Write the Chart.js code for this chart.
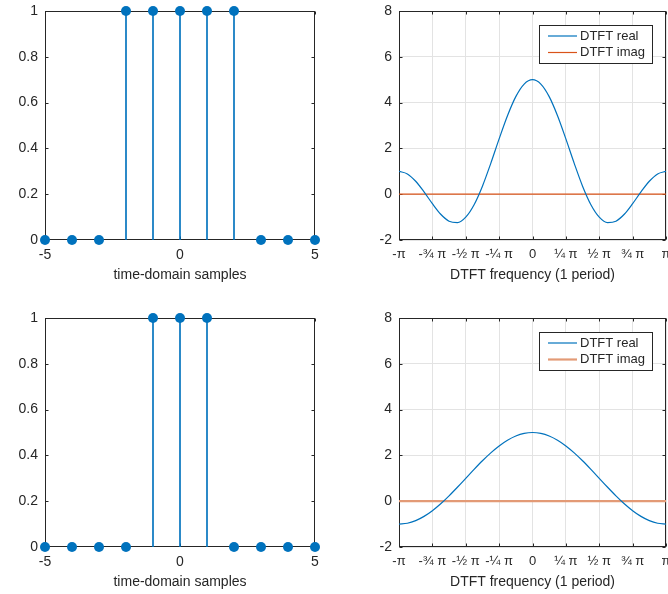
<!DOCTYPE html>
<html>
<head>
<meta charset="utf-8">
<script src="https://cdn.jsdelivr.net/npm/chart.js@4"></script>
<style>
  html, body { margin: 0; padding: 0; background: #fff; overflow: hidden; }
  body { width: 668px; height: 594px; position: relative; }
  canvas { position: absolute; }
</style>
</head>
<body>
<canvas id="stem5" width="340" height="297" style="left:0;top:-5px"></canvas>
<canvas id="dtft5" width="340" height="297" style="left:340px;top:-5px"></canvas>
<canvas id="stem3" width="340" height="297" style="left:0;top:297px"></canvas>
<canvas id="dtft3" width="340" height="297" style="left:340px;top:297px"></canvas>
<script>
// time-domain samples
const samples = [-5, -4, -3, -2, -1, 0, 1, 2, 3, 4, 5];
const pulse5 = [0, 0, 0, 1, 1, 1, 1, 1, 0, 0, 0];
const pulse3 = [0, 0, 0, 0, 1, 1, 1, 0, 0, 0, 0];

// DTFT, frequency in units of pi (one period)
const freqPi = [-1, -0.9375, -0.875, -0.8125, -0.75, -0.6875, -0.625, -0.5625, -0.5,
  -0.4375, -0.375, -0.3125, -0.25, -0.1875, -0.125, -0.0625, 0,
  0.0625, 0.125, 0.1875, 0.25, 0.3125, 0.375, 0.4375, 0.5,
  0.5625, 0.625, 0.6875, 0.75, 0.8125, 0.875, 0.9375, 1];
const real5 = [1, 0.886, 0.566, 0.102, -0.414, -0.877, -1.18, -1.238, -1,
  -0.458, 0.351, 1.346, 2.414, 3.428, 4.262, 4.809, 5,
  4.809, 4.262, 3.428, 2.414, 1.346, 0.351, -0.458, -1,
  -1.238, -1.18, -0.877, -0.414, 0.102, 0.566, 0.886, 1];
const real3 = [-1, -0.962, -0.848, -0.663, -0.414, -0.111, 0.235, 0.61, 1,
  1.39, 1.765, 2.111, 2.414, 2.663, 2.848, 2.962, 3,
  2.962, 2.848, 2.663, 2.414, 2.111, 1.765, 1.39, 1,
  0.61, 0.235, -0.111, -0.414, -0.663, -0.848, -0.962, -1];
const imagZero = [0, 0, 0, 0, 0, 0, 0, 0, 0, 0, 0, 0, 0, 0, 0, 0, 0,
  0, 0, 0, 0, 0, 0, 0, 0, 0, 0, 0, 0, 0, 0, 0, 0];

const piTickLabels = ['-π', '-¾ π', '-½ π', '-¼ π', '0', '¼ π', '½ π', '¾ π', 'π'];
const stemYLabels = ['0', '0.2', '0.4', '0.6', '0.8', '1'];

const blue = '#0072BD';
const ink = '#262626';
const font = { family: '"Liberation Sans", Arial, sans-serif', size: 14 };

Chart.defaults.color = ink;
Chart.defaults.font.family = font.family;

// box around the axes with small inward tick marks
const framePlugin = {
  id: 'frame',
  beforeDatasetsDraw(chart) {
    const { ctx, chartArea: a, scales } = chart;
    ctx.save();
    ctx.strokeStyle = ink;
    ctx.lineWidth = 1;
    const l = Math.round(a.left) + 0.5, r = Math.round(a.right) - 0.5;
    const t = Math.round(a.top) + 0.5, b = Math.round(a.bottom) - 0.5;
    ctx.strokeRect(l, t, r - l, b - t);
    ctx.beginPath();
    scales.x.ticks.forEach(tk => {
      const px = Math.round(scales.x.getPixelForValue(tk.value)) + 0.5;
      ctx.moveTo(px, b); ctx.lineTo(px, b - 3);
      ctx.moveTo(px, t); ctx.lineTo(px, t + 3);
    });
    scales.y.ticks.forEach(tk => {
      const py = Math.round(scales.y.getPixelForValue(tk.value)) + 0.5;
      ctx.moveTo(l, py); ctx.lineTo(l + 3, py);
      ctx.moveTo(r, py); ctx.lineTo(r - 3, py);
    });
    ctx.stroke();
    ctx.restore();
  }
};

// MATLAB-like legend in the upper right of the axes
const boxLegend = {
  id: 'boxLegend',
  afterDraw(chart) {
    const { ctx, chartArea: a } = chart;
    const w = 113, h = 38;
    const x = Math.round(a.right) - 14 - w, y = Math.round(a.top) + 14;
    ctx.save();
    ctx.fillStyle = '#fff';
    ctx.fillRect(x, y, w, h);
    ctx.strokeStyle = ink;
    ctx.lineWidth = 1;
    ctx.strokeRect(x + 0.5, y + 0.5, w, h);
    ctx.font = '13px ' + font.family;
    ctx.textBaseline = 'middle';
    chart.data.datasets.forEach((ds, i) => {
      const cy = y + 11 + i * 16.5;
      ctx.strokeStyle = ds.borderColor;
      ctx.lineWidth = ds.borderWidth;
      ctx.beginPath();
      ctx.moveTo(x + 9, cy); ctx.lineTo(x + 38, cy);
      ctx.stroke();
      ctx.fillStyle = ink;
      ctx.fillText(ds.label, x + 41, cy);
    });
    ctx.restore();
  }
};

function stemChart(id, values, padTop, padBottom) {
  const pts = samples.map((s, i) => ({ x: s, y: values[i] }));
  new Chart(document.getElementById(id), {
    type: 'scatter',
    data: {
      datasets: [
        { type: 'bar', data: pts, backgroundColor: blue, barThickness: 1, grouped: false, borderWidth: 0 },
        { type: 'scatter', data: pts, backgroundColor: blue, borderWidth: 0, pointRadius: 5, pointHoverRadius: 5, clip: false }
      ]
    },
    options: {
      responsive: false,
      animation: false,
      events: [],
      layout: { padding: { top: padTop, right: 25, bottom: padBottom, left: 0 } },
      plugins: { legend: { display: false }, tooltip: { enabled: false } },
      scales: {
        x: {
          type: 'linear', min: -5, max: 5, offset: false,
          ticks: { stepSize: 5, padding: 7, font, color: ink, maxRotation: 0 },
          grid: { display: false, drawTicks: false }, border: { display: false },
          title: { display: true, text: 'time-domain samples', padding: 0, font, color: ink },
          afterFit(s) { s.height = 44; }
        },
        y: {
          min: 0, max: 1,
          ticks: { stepSize: 0.2, padding: 7, font, color: ink, callback: (v) => stemYLabels[Math.round(v * 5)] },
          grid: { display: false, drawTicks: false }, border: { display: false },
          afterFit(s) { s.width = 45; }
        }
      }
    },
    plugins: [framePlugin]
  });
}

function dtftChart(id, real, imagColor, imagWidth, padTop, padBottom) {
  new Chart(document.getElementById(id), {
    type: 'line',
    data: {
      datasets: [
        { label: 'DTFT real', data: freqPi.map((f, i) => ({ x: f, y: real[i] })), borderColor: blue, borderWidth: 1.2, pointRadius: 0, cubicInterpolationMode: 'monotone' },
        { label: 'DTFT imag', data: freqPi.map((f, i) => ({ x: f, y: imagZero[i] })), borderColor: imagColor, borderWidth: imagWidth, pointRadius: 0 }
      ]
    },
    options: {
      responsive: false,
      animation: false,
      events: [],
      layout: { padding: { top: padTop, right: 14, bottom: padBottom, left: 0 } },
      plugins: { legend: { display: false }, tooltip: { enabled: false } },
      scales: {
        x: {
          type: 'linear', min: -1, max: 1,
          ticks: { stepSize: 0.25, padding: 7, font: { family: font.family, size: 13 }, color: ink, maxRotation: 0, autoSkip: false,
            callback: (v) => piTickLabels[Math.round((v + 1) * 4)] },
          grid: { color: '#e3e3e3', drawTicks: false }, border: { display: false },
          title: { display: true, text: 'DTFT frequency (1 period)', padding: 0, font, color: ink },
          afterFit(s) { s.height = 44; }
        },
        y: {
          min: -2, max: 8,
          ticks: { stepSize: 2, padding: 7, font, color: ink },
          grid: { color: '#e3e3e3', drawTicks: false }, border: { display: false },
          afterFit(s) { s.width = 59; }
        }
      }
    },
    plugins: [framePlugin, boxLegend]
  });
}

stemChart('stem5', pulse5, 16, 8);
dtftChart('dtft5', real5, '#D95319', 1.2, 16, 8);
stemChart('stem3', pulse3, 21, 3);
dtftChart('dtft3', real3, '#E39A76', 2.2, 21, 3);
</script>
</body>
</html>
